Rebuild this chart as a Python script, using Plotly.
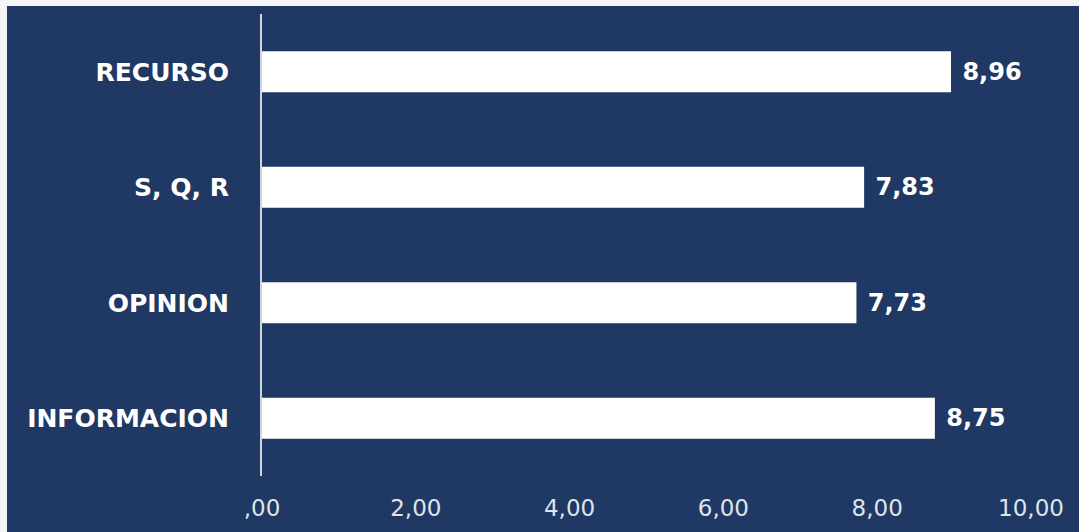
import plotly.graph_objects as go

categories = ["INFORMACION", "OPINION", "S, Q, R", "RECURSO"]
values = [8.75, 7.73, 7.83, 8.96]
tick_vals = [0, 2, 4, 6, 8, 10]
tick_text = [",00", "2,00", "4,00", "6,00", "8,00", "10,00"]

labels = [" " + f"{v:.2f}".replace(".", ",") for v in values]

W, H = 1079, 532
ML, MR, MT, MB = 262, 48, 14, 56
pw = W - ML - MR
ph = H - MT - MB
BG = "#1f3864"
FONT = "DejaVu Sans"

fig = go.Figure(go.Bar(
    y=categories, x=values, orientation="h",
    marker=dict(color="#ffffff", line=dict(width=0)),
    text=labels, textposition="outside", cliponaxis=False,
    textfont=dict(family=FONT, size=24, color="#ffffff", weight="bold"),
    width=0.355,
))

fig.update_layout(
    width=W, height=H,
    margin=dict(l=ML, r=MR, t=MT, b=MB, pad=0),
    paper_bgcolor=BG, plot_bgcolor=BG,
    showlegend=False,
    xaxis=dict(range=[0, 10], tickvals=tick_vals, ticktext=tick_text,
               showgrid=False, zeroline=False, showline=False,
               tickfont=dict(family=FONT, size=23, color="#dfe3ea"),
               ticks="", ticklabelstandoff=16, fixedrange=True),
    yaxis=dict(showgrid=False, zeroline=False, showline=True,
               linecolor="#d0d5de", linewidth=2, ticks="",
               tickfont=dict(family=FONT, size=25, color="#ffffff", weight="bold"),
               ticklabelstandoff=26, range=[-0.5, 3.5]),
    shapes=[
        dict(type="rect", xref="paper", yref="paper",
             x0=-ML / pw, x1=(7 - ML) / pw, y0=-MB / ph, y1=(H - MT) / ph,
             fillcolor="#f4f5f7", line=dict(width=0), layer="above"),
        dict(type="rect", xref="paper", yref="paper",
             x0=-ML / pw, x1=(W - ML) / pw, y0=(ph + MT - 6) / ph, y1=(H - MB) / ph + 1,
             fillcolor="#f4f5f7", line=dict(width=0), layer="above"),
    ],
)

fig.write_html(
    "out.html",
    config={"displayModeBar": False},
    post_script="document.body.style.margin='0';document.body.style.overflow='hidden';",
)
